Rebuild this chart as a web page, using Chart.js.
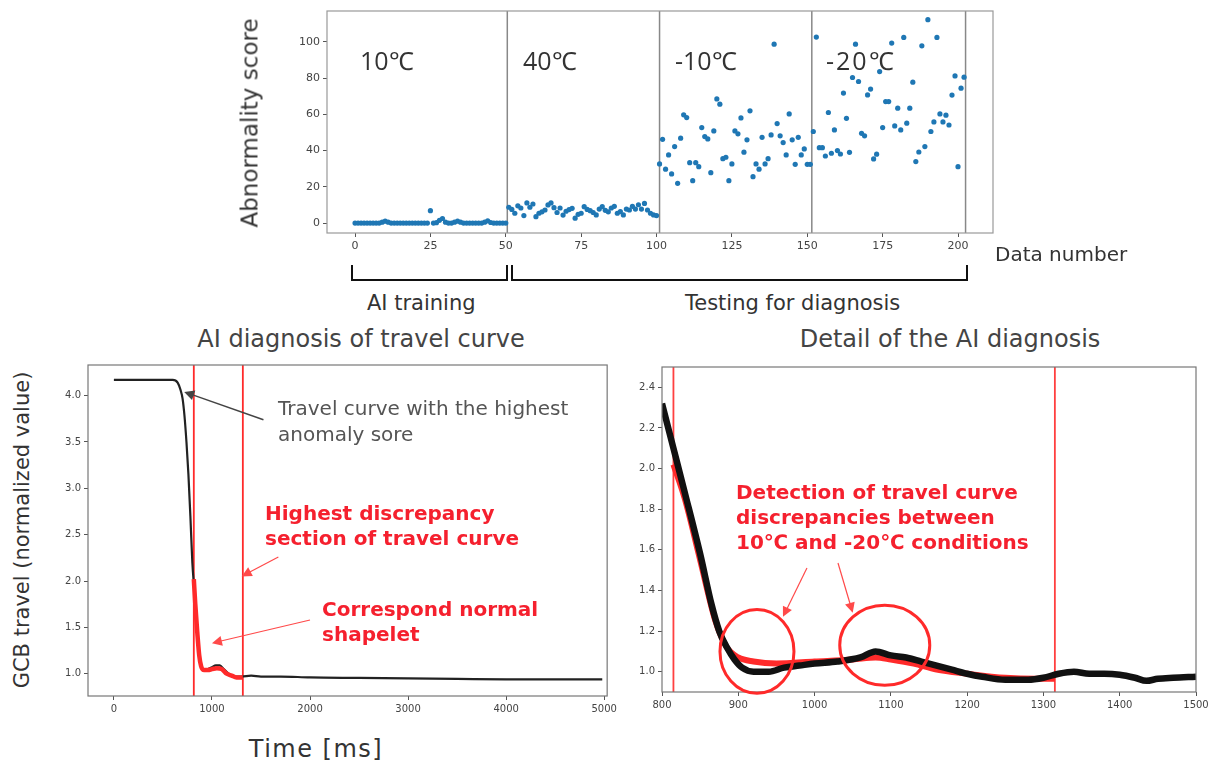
<!DOCTYPE html>
<html>
<head>
<meta charset="utf-8">
<script src="https://cdn.jsdelivr.net/npm/chart.js@4.4.0/dist/chart.umd.min.js"></script>
<style>
  body { margin: 0; width: 1216px; height: 765px; background: #fff; position: relative; overflow: hidden; font-family: "DejaVu Sans", sans-serif; }
  canvas { position: absolute; }
  .t { position: absolute; white-space: nowrap; line-height: 1; color: #333; }
  .deg { font-family: "Open Sans", sans-serif; font-size: 25px; }
  .note { color: #555; font-size: 20px; line-height: 26px; }
  .red { color: #f5202e; font-weight: bold; font-size: 20px; line-height: 25px; }
  .title { color: #444; font-size: 24px; transform: translateX(-50%); }
  .rot { transform: translate(-50%, -50%) rotate(-90deg); }
  .brace { position: absolute; border: 2.5px solid #111; border-top: none; box-sizing: border-box; }
</style>
</head>
<body>

<canvas id="scoreChart" width="780" height="265" style="left:230px;top:0px"></canvas>
<canvas id="fullChart" width="580" height="375" style="left:40px;top:355px"></canvas>
<canvas id="detailChart" width="596" height="365" style="left:620px;top:355px"></canvas>

<!-- top chart labels -->
<div class="t rot" style="left:250px;top:123px;font-size:23px">Abnormality score</div>
<div class="t deg" style="left:360px;top:48px">10℃</div>
<div class="t deg" style="left:523px;top:48px">40℃</div>
<div class="t deg" style="left:675px;top:48px">-10℃</div>
<div class="t deg" style="left:826px;top:48px;letter-spacing:2px">-20℃</div>
<div class="t" style="left:995px;top:244px;font-size:20px">Data number</div>
<div class="brace" style="left:351px;top:265px;width:157px;height:16px"></div>
<div class="brace" style="left:511px;top:265px;width:457px;height:16px"></div>
<div class="t" style="left:367px;top:293px;font-size:21px">AI training</div>
<div class="t" style="left:685px;top:293px;font-size:21px">Testing for diagnosis</div>

<!-- bottom charts labels -->
<div class="t title" style="left:361px;top:327px">AI diagnosis of travel curve</div>
<div class="t title" style="left:950px;top:327px">Detail of the AI diagnosis</div>
<div class="t rot" style="left:22px;top:530px;font-size:21px">GCB travel (normalized value)</div>
<div class="t" style="left:316px;top:737px;font-size:24px;letter-spacing:1.5px;transform:translateX(-50%)">Time [ms]</div>

<div class="t note" style="left:278px;top:395px">Travel curve with the highest<br>anomaly sore</div>
<div class="t red" style="left:265px;top:501px">Highest discrepancy<br>section of travel curve</div>
<div class="t red" style="left:322px;top:597px">Correspond normal<br>shapelet</div>
<div class="t red" style="left:736px;top:480px">Detection of travel curve<br>discrepancies between<br>10℃ and -20℃ conditions</div>

<script>
// ---- abnormality score per data number ----
const scoreXTicks = [0, 25, 50, 75, 100, 125, 150, 175, 200];
const scoreYTicks = [0, 20, 40, 60, 80, 100];
const groupStart = [0, 51, 101, 152];
const groupEdges = [50.5, 101, 151.5, 202.5];

const score10 = [0, 0, 0, 0, 0, 0, 0, 0, 0, 0.5, 1, 0.5, 0, 0, 0, 0, 0, 0, 0, 0,
  0, 0, 0, 0, 0, 6.8, 0, 0.2, 1.5, 2.5, 0.5, 0, 0, 0.5, 1, 0.5, 0, 0, 0, 0,
  0, 0, 0, 0.5, 1.2, 0.3, 0, 0, 0, 0, 0];
const score40 = [8.7, 7.5, 5.4, 9.5, 8.3, 4.1, 11.1, 8.7, 10.5, 3.5, 5.4, 6.2, 7.2, 10, 11.1, 8.5, 5.8, 8.3, 4.4, 6.5,
  7.4, 8.1, 2.7, 4.8, 5.4, 9, 7.5, 6.8, 5.8, 4.5, 7.7, 9, 7, 6.2, 8.3, 9.2, 5.4, 6.3, 4.5, 7.7,
  7.2, 9.2, 7.7, 10.1, 7.7, 10.8, 7.2, 5.4, 4.5, 4.1];
const scoreM10 = [32.6, 46.2, 29.7, 37.6, 27.1, 42.2, 21.9, 46.8, 59.7, 58.2, 33.3, 23.4, 33.3, 31.1, 52.7, 47.7, 46.4, 27.8, 50.8, 68.5,
  65.6, 35.5, 36.3, 23.4, 32.6, 50.8, 49.2, 58.0, 39.1, 45.9, 61.9, 25.6, 32.6, 29.7, 47.3, 32.6, 35.5, 48.6, 98.7, 54.9,
  48.1, 44.4, 37.6, 60.2, 45.9, 32.4, 47.3, 37.6, 40.9, 32.4, 32.4];
const scoreM20 = [50.5, 102.6, 41.6, 41.6, 37.0, 61.0, 38.5, 51.4, 40.0, 38.1, 71.7, 57.8, 39.0, 80.3, 98.7, 78.1, 49.5, 48.1, 70.7, 73.9,
  35.4, 38.0, 83.6, 52.7, 67.0, 67.0, 99.3, 53.6, 63.4, 51.4, 102.4, 55.1, 63.4, 77.7, 33.9, 39.2, 97.8, 42.2, 112.2, 50.5,
  55.8, 102.4, 60.2, 55.8, 59.5, 54.1, 70.6, 81.2, 31.1, 74.4, 80.5];

// ---- travel curve, full range ----
const fullXTicks = [0, 1000, 2000, 3000, 4000, 5000];
const fullYTicks = [1.0, 1.5, 2.0, 2.5, 3.0, 3.5, 4.0];
const timeFull = [0, 200, 400, 600, 650, 680, 700, 720, 740, 760, 780, 800, 820, 840, 860, 880, 900, 930, 960, 1000,
  1040, 1080, 1120, 1160, 1200, 1250, 1300, 1400, 1500, 1700, 2000, 2500, 3000, 3500, 4000, 4500, 4980];
const travelFull = [4.17, 4.17, 4.17, 4.17, 4.14, 4.06, 3.97, 3.78, 3.5, 3.15, 2.7, 2.2, 1.9, 1.55, 1.3, 1.13, 1.05, 1.03, 1.05, 1.07,
  1.09, 1.09, 1.05, 1.01, 0.98, 0.97, 0.97, 0.98, 0.97, 0.97, 0.96, 0.955, 0.95, 0.945, 0.94, 0.94, 0.94];
const timeShape = [815, 830, 850, 870, 890, 920, 960, 1000, 1050, 1100, 1150, 1200, 1250, 1315];
const travelShape = [2.02, 1.75, 1.45, 1.2, 1.08, 1.04, 1.04, 1.05, 1.06, 1.05, 1.0, 0.98, 0.96, 0.96];
const sectionBounds = [815, 1315];

// ---- travel curve, detail ----
const detailXTicks = [800, 900, 1000, 1100, 1200, 1300, 1400, 1500];
const detailYTicks = [1.0, 1.2, 1.4, 1.6, 1.8, 2.0, 2.2, 2.4];
const timeDetail = [800, 815, 830, 850, 865, 875, 885, 895, 905, 920, 940, 960, 980, 1000, 1030, 1060, 1080, 1100, 1120, 1140,
  1160, 1180, 1200, 1220, 1250, 1280, 1300, 1320, 1340, 1360, 1380, 1400, 1420, 1435, 1450, 1470, 1500];
const travelDetail = [2.32, 2.1, 1.88, 1.58, 1.33, 1.2, 1.12, 1.06, 1.02, 1.0, 1.0, 1.02, 1.03, 1.04, 1.05, 1.07, 1.1, 1.08, 1.07, 1.05,
  1.03, 1.01, 0.99, 0.975, 0.96, 0.96, 0.97, 0.99, 1.0, 0.99, 0.99, 0.985, 0.97, 0.955, 0.965, 0.97, 0.975];
const timeDetailShape = [815, 830, 850, 870, 885, 900, 920, 950, 1000, 1050, 1080, 1100, 1130, 1160, 1200, 1250, 1290, 1315];
const travelDetailShape = [2.02, 1.85, 1.55, 1.25, 1.12, 1.07, 1.05, 1.04, 1.05, 1.06, 1.07, 1.06, 1.04, 1.01, 0.99, 0.97, 0.965, 0.965];

const RED = '#ff2a2a';

function pts(xs, ys) { return xs.map((x, i) => ({ x: x, y: ys[i] })); }
function group(start, ys) { return ys.map((y, i) => ({ x: start + i, y: y })); }
function vline(x, min, max) { return [{ x: x, y: min }, { x: x, y: max }]; }

function axis(min, max, ticks, fmt, size, isY, fontSize) {
  return {
    type: 'linear', min: min, max: max,
    afterBuildTicks: s => { s.ticks = ticks.map(v => ({ value: v })); },
    afterFit: s => { if (isY) s.width = size; else s.height = size; },
    border: { display: false },
    grid: { drawOnChartArea: false, drawTicks: true, tickLength: 4, color: '#555' },
    ticks: { color: '#444', font: { family: 'DejaVu Sans', size: fontSize }, padding: 3,
      maxRotation: 0, autoSkip: false, callback: fmt }
  };
}

// frame box, arrows and circled areas
const framePlugin = {
  id: 'frame',
  afterDatasetsDraw(chart, args, opts) {
    const { ctx, chartArea: a } = chart;
    const x = chart.scales.x, y = chart.scales.y;
    ctx.save();
    ctx.strokeStyle = opts.color || '#888';
    ctx.lineWidth = 1.2;
    ctx.strokeRect(a.left, a.top, a.width, a.height);
    (opts.ellipses || []).forEach(e => {
      const cx = x.getPixelForValue(e.x), cy = y.getPixelForValue(e.y);
      const rx = Math.abs(x.getPixelForValue(e.x + e.rx) - cx);
      const ry = Math.abs(y.getPixelForValue(e.y + e.ry) - cy);
      ctx.beginPath();
      ctx.strokeStyle = RED;
      ctx.lineWidth = 3;
      ctx.ellipse(cx, cy, rx, ry, 0, 0, Math.PI * 2);
      ctx.stroke();
    });
    (opts.arrows || []).forEach(ar => {
      const x1 = x.getPixelForValue(ar.from[0]), y1 = y.getPixelForValue(ar.from[1]);
      const x2 = x.getPixelForValue(ar.to[0]), y2 = y.getPixelForValue(ar.to[1]);
      const ang = Math.atan2(y2 - y1, x2 - x1);
      ctx.strokeStyle = ar.color;
      ctx.fillStyle = ar.color;
      ctx.lineWidth = ar.width;
      ctx.beginPath();
      ctx.moveTo(x1, y1);
      ctx.lineTo(x2 - Math.cos(ang) * 6, y2 - Math.sin(ang) * 6);
      ctx.stroke();
      ctx.beginPath();
      ctx.moveTo(x2, y2);
      ctx.lineTo(x2 - Math.cos(ang) * 10 + Math.sin(ang) * 5, y2 - Math.sin(ang) * 10 - Math.cos(ang) * 5);
      ctx.lineTo(x2 - Math.cos(ang) * 10 - Math.sin(ang) * 5, y2 - Math.sin(ang) * 10 + Math.cos(ang) * 5);
      ctx.closePath();
      ctx.fill();
    });
    ctx.restore();
  }
};

const common = { responsive: false, animation: false, events: [] };

// top: abnormality score
const scoreSets = [score10, score40, scoreM10, scoreM20].map((ys, i) => ({
  type: 'scatter', data: group(groupStart[i], ys), order: 1,
  backgroundColor: '#1f77b4', pointRadius: 2.6, pointBorderWidth: 0
}));
groupEdges.forEach(e => scoreSets.push({
  type: 'scatter', data: vline(e, -5.5, 117), showLine: true, order: 2,
  borderColor: '#888', borderWidth: 1.5, pointRadius: 0
}));

new Chart(document.getElementById('scoreChart'), {
  type: 'scatter',
  data: { datasets: scoreSets },
  options: Object.assign({}, common, {
    layout: { padding: { top: 11, right: 17, left: 0, bottom: 0 } },
    plugins: { legend: { display: false }, tooltip: { enabled: false }, frame: { color: '#999' } },
    scales: {
      x: axis(-9.3, 211.6, scoreXTicks, v => v, 32, false, 11),
      y: axis(-5.5, 117, scoreYTicks, v => v, 97, true, 11)
    }
  }),
  plugins: [framePlugin]
});

// bottom left: full travel curve
const fullSets = [
  { data: pts(timeShape, travelShape), borderColor: RED, borderWidth: 4.5, order: 1 },
  { data: pts(timeFull, travelFull), borderColor: '#222', borderWidth: 2.2, order: 2 }
];
sectionBounds.forEach(b => fullSets.push({ data: vline(b, 0.76, 4.33), borderColor: RED, borderWidth: 1.8, order: 3 }));
fullSets.forEach(d => { d.showLine = true; d.pointRadius = 0; d.cubicInterpolationMode = 'monotone'; });

new Chart(document.getElementById('fullChart'), {
  type: 'scatter',
  data: { datasets: fullSets },
  options: Object.assign({}, common, {
    layout: { padding: { top: 10, right: 10, left: 0, bottom: 0 } },
    plugins: {
      legend: { display: false }, tooltip: { enabled: false },
      frame: {
        color: '#777',
        arrows: [
          { from: [1525, 3.74], to: [717, 4.04], color: '#444', width: 1.5 },
          { from: [1677, 2.26], to: [1303, 2.05], color: '#ff4a4a', width: 1.2 },
          { from: [2000, 1.58], to: [1000, 1.33], color: '#ff4a4a', width: 1.2 }
        ]
      }
    },
    scales: {
      x: axis(-264, 5030, fullXTicks, v => v, 34, false, 10),
      y: axis(0.76, 4.33, fullYTicks, v => v.toFixed(1), 48, true, 10)
    }
  }),
  plugins: [framePlugin]
});

// bottom right: detail of the section
const detailSets = [
  { data: pts(timeDetail, travelDetail), borderColor: '#111', borderWidth: 6.5, order: 1 },
  { data: pts(timeDetailShape, travelDetailShape), borderColor: RED, borderWidth: 6, order: 2 }
];
sectionBounds.forEach(b => detailSets.push({ data: vline(b, 0.9, 2.5), borderColor: '#ff4040', borderWidth: 1.8, order: 3 }));
detailSets.forEach(d => { d.showLine = true; d.pointRadius = 0; d.cubicInterpolationMode = 'monotone'; });

new Chart(document.getElementById('detailChart'), {
  type: 'scatter',
  data: { datasets: detailSets },
  options: Object.assign({}, common, {
    layout: { padding: { top: 12, right: 20, left: 0, bottom: 0 } },
    plugins: {
      legend: { display: false }, tooltip: { enabled: false },
      frame: {
        color: '#777',
        ellipses: [
          { x: 924.5, y: 1.10, rx: 48.5, ry: 0.206 },
          { x: 1092, y: 1.13, rx: 59, ry: 0.197 }
        ],
        arrows: [
          { from: [990, 1.51], to: [958.6, 1.27], color: '#ff4a4a', width: 1.2 },
          { from: [1030.7, 1.535], to: [1050, 1.29], color: '#ff4a4a', width: 1.2 }
        ]
      }
    },
    scales: {
      x: axis(800, 1500, detailXTicks, v => v, 28, false, 10),
      y: axis(0.9, 2.5, detailYTicks, v => v.toFixed(1), 42, true, 10)
    }
  }),
  plugins: [framePlugin]
});
</script>
</body>
</html>
